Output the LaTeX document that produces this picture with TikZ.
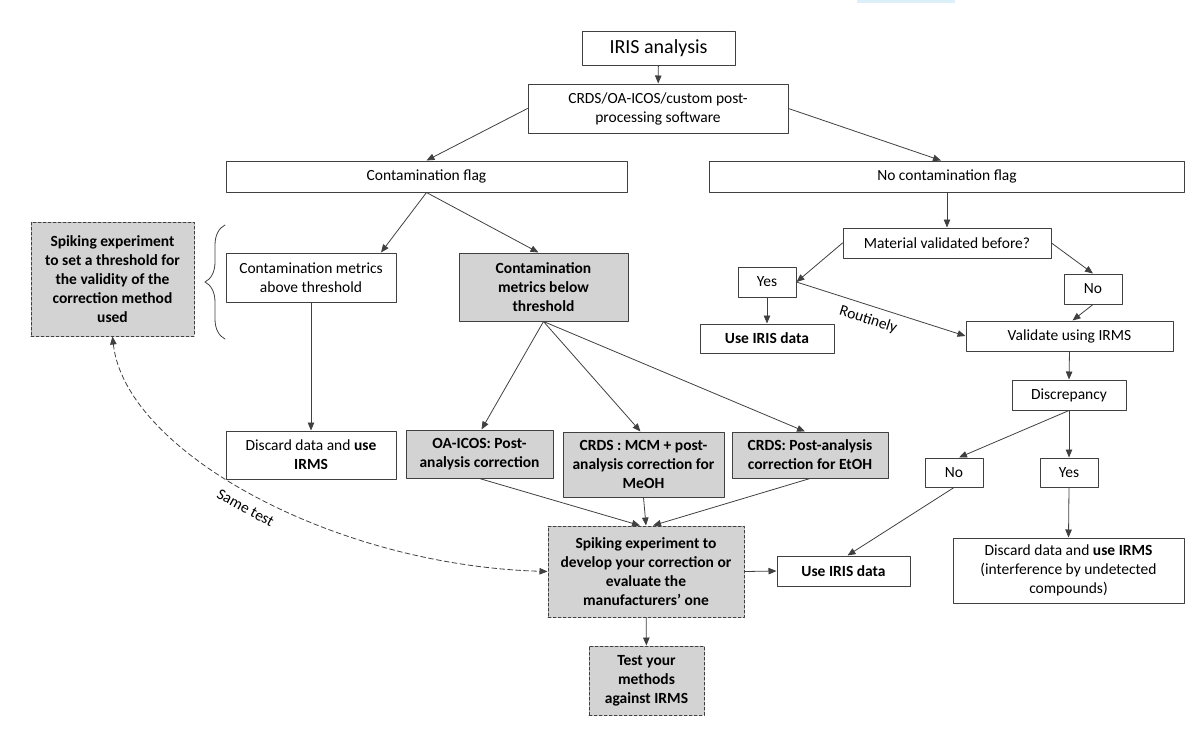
\documentclass[tikz,border=0pt]{standalone}
\usepackage{fontspec}
\setmainfont{Carlito}
\usepackage{tikz}
\usetikzlibrary{arrows.meta,decorations.pathreplacing}
\definecolor{irisline}{HTML}{404040}
\definecolor{irisfill}{HTML}{D3D3D3}
\definecolor{irisstrip}{HTML}{DDF0FA}
\tikzset{
  every picture/.append style={line cap=round,line join=round},
  iris box/.style={draw=irisline,line width=1pt,fill=white,align=center,inner sep=0pt,
    font=\fontsize{15.5}{19}\selectfont},
  iris grey/.style={iris box,fill=irisfill,font=\fontsize{15.5}{19}\selectfont\bfseries},
  iris spike/.style={iris grey,dash pattern=on 3pt off 2pt},
  iris arrow/.style={irisline,line width=0.8pt,-{Triangle[length=8pt,width=6.5pt]}},
  iris back/.style={irisline,line width=0.8pt,dash pattern=on 5pt off 3pt,
    {Triangle[length=8pt,width=6.5pt]}-{Triangle[length=8pt,width=6.5pt]}},
  iris note/.style={font=\fontsize{15.5}{19}\selectfont,text=black}
}

\begin{document}
\begin{tikzpicture}[x=1pt,y=-1pt]
  \useasboundingbox (0,0) rectangle (1200,732);
  \fill[irisstrip] (857,0) rectangle (955,2.5);

  % contamination branch
  \node[iris box,minimum width=153pt,minimum height=34pt,font=\fontsize{20}{24}\selectfont] (iris) at (658.5,48) {IRIS analysis};
  \node[iris box,minimum width=260pt,minimum height=49pt] (software) at (658,108.5) {CRDS/OA-ICOS/custom post-\\processing software};
  \node[iris box,minimum width=401pt,minimum height=31pt] (flag) at (426.5,176.5) {Contamination flag};
  \node[iris box,minimum width=475pt,minimum height=31pt] (noflag) at (947,176.5) {No contamination flag};
  \node[iris spike,minimum width=163pt,minimum height=114pt] (setthresh) at (112.5,279)
    {Spiking experiment\\to set a threshold for\\the validity of the\\correction method\\used};
  \node[iris box,minimum width=170pt,minimum height=49pt] (above) at (311,277.5) {Contamination metrics\\above threshold};
  \node[iris grey,minimum width=169pt,minimum height=68pt] (below) at (543.5,287) {Contamination\\metrics below\\threshold};
  \node[iris box,minimum width=170pt,minimum height=48pt] (discardA) at (311,455) {Discard data and \textbf{use}\\\textbf{IRMS}};
  \node[iris grey,minimum width=147pt,minimum height=48pt] (oaicos) at (479.5,454) {OA-ICOS: Post-\\analysis correction};
  \node[iris grey,minimum width=161pt,minimum height=65pt] (mcm) at (643.5,464.5) {CRDS : MCM + post-\\analysis correction for\\MeOH};
  \node[iris grey,minimum width=156pt,minimum height=46pt] (etoh) at (810,455) {CRDS: Post-analysis\\correction for EtOH};
  \node[iris spike,minimum width=196pt,minimum height=91pt] (develop) at (646,571.5)
    {Spiking experiment to\\develop your correction or\\evaluate the\\manufacturers’ one};
  \node[iris spike,minimum width=115pt,minimum height=69pt] (testirms) at (646.5,680.5) {Test your\\methods\\against IRMS};

  % no contamination branch
  \node[iris box,minimum width=208pt,minimum height=30pt] (material) at (947,243) {Material validated before?};
  \node[iris box,minimum width=58pt,minimum height=30pt] (yesA) at (767,282) {Yes};
  \node[iris box,minimum width=58pt,minimum height=30pt] (noA) at (1093,289) {No};
  \node[iris box,minimum width=134pt,minimum height=29pt,font=\fontsize{15.5}{19}\selectfont\bfseries] (useA) at (767,338.5) {Use IRIS data};
  \node[iris box,minimum width=207pt,minimum height=30pt] (validate) at (1069.5,336) {Validate using IRMS};
  \node[iris box,minimum width=114pt,minimum height=30pt] (discrep) at (1069,395) {Discrepancy};
  \node[iris box,minimum width=58pt,minimum height=29pt] (noB) at (954,472.5) {No};
  \node[iris box,minimum width=58pt,minimum height=29pt] (yesB) at (1069,472.5) {Yes};
  \node[iris box,minimum width=133pt,minimum height=30pt,font=\fontsize{15.5}{19}\selectfont\bfseries] (useB) at (843.5,571) {Use IRIS data};
  \node[iris box,minimum width=231pt,minimum height=65pt] (discardB) at (1068.5,570.5)
    {Discard data and \textbf{use IRMS}\\(interference by undetected\\compounds)};

  % brace in front of the threshold boxes
  \coordinate (braceB) at (225,339);
  \coordinate (braceT) at (225,225);
  \draw[irisline,line width=0.8pt,decorate,decoration={brace,amplitude=20pt}] (braceB) -- (braceT);

  \draw[iris arrow] (iris) -- (software);
  \draw[iris arrow] (software.west) -- (flag.north);
  \draw[iris arrow] (software.east) -- ([xshift=-6pt]noflag.north);
  \draw[iris arrow] (flag.south) -- ([xshift=70pt]above.north);
  \draw[iris arrow] (flag.south) -- ([xshift=-5pt]below.north);
  \draw[iris arrow] (above) -- (discardA);
  \foreach \dst/\dx in {oaicos/2,mcm/-3,etoh/-5}
    \draw[iris arrow] (below.south) -- ([xshift=\dx pt]\dst.north);
  \foreach \src/\dx in {oaicos/-6,mcm/0,etoh/7}
    \draw[iris arrow] (\src.south) -- ([xshift=\dx pt]develop.north);
  \draw[iris arrow] (develop.east) -- (useB.west);
  \draw[iris arrow] (develop) -- (testirms);
  \draw[iris back] (setthresh.south) .. controls (125,450) and (330,565) .. (develop.west)
    node[iris note,sloped,below=7pt,pos=0.5] {Same test};

  \draw[iris arrow] (noflag) -- (material);
  \draw[iris arrow] (material.west) -- (yesA.east);
  \draw[iris arrow] (material.east) -- (noA.north);
  \draw[iris arrow] (yesA) -- (useA);
  \draw[iris arrow] (yesA.east) -- node[iris note,sloped,below=4pt,pos=0.45] {Routinely} (validate.west);
  \draw[iris arrow] (noA.south) -- ([xshift=3pt]validate.north);
  \draw[iris arrow] (validate.south) -- (discrep.north);
  \draw[iris arrow] (discrep.south) -- ([xshift=5pt]noB.north);
  \draw[iris arrow] (discrep.south) -- (yesB.north);
  \draw[iris arrow] (yesB.south) -- (discardB.north);
  \draw[iris arrow] (noB.south) -- ([xshift=4pt]useB.north);
\end{tikzpicture}
\end{document}
